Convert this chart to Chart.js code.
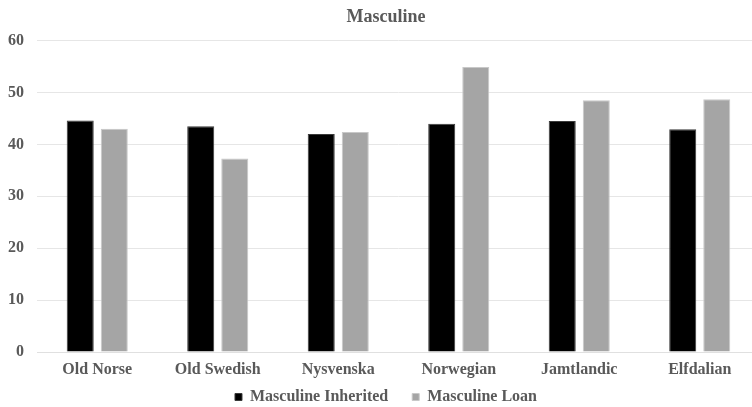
<!DOCTYPE html>
<html lang="en">
<head>
<meta charset="UTF-8">
<title>Masculine</title>
<script src="https://cdn.jsdelivr.net/npm/chart.js"></script>
<style>
    html, body { margin: 0; background: #fff; overflow: hidden; }
    #wrap { width: 784px; height: 407px; }
</style>
</head>
<body>
<div id="wrap"><canvas id="masculineChart" width="784" height="407"></canvas></div>
<script>
var categories = ['Old Norse', 'Old Swedish', 'Nysvenska', 'Norwegian', 'Jamtlandic', 'Elfdalian'];
var inheritedValues = [44.6, 43.5, 42.0, 44.0, 44.5, 42.9];
var loanValues = [43.0, 37.3, 42.4, 54.9, 48.5, 48.7];
var yTicks = [0, 10, 20, 30, 40, 50, 60];

var textGray = '#595959';
var serif = "'Liberation Serif', 'Times New Roman', serif";

var ctx = document.getElementById('masculineChart').getContext('2d');
var chart = new Chart(ctx, {
    type: 'bar',
    data: {
        labels: categories,
        datasets: [{
            label: 'Masculine Inherited',
            data: inheritedValues,
            backgroundColor: '#000000',
            borderColor: '#3a3a3a',
            borderWidth: 1,
            barPercentage: 0.794,
            categoryPercentage: 0.565
        }, {
            label: 'Masculine Loan',
            data: loanValues,
            backgroundColor: '#a5a5a5',
            borderColor: '#c8c8c8',
            borderWidth: 1,
            barPercentage: 0.794,
            categoryPercentage: 0.565
        }]
    },
    options: {
        responsive: false,
        animation: false,
        layout: { padding: { left: 12, right: 24, top: 2, bottom: -8 } },
        plugins: {
            title: {
                display: true,
                text: 'Masculine',
                color: textGray,
                font: { family: serif, size: 18, weight: 'bold' },
                padding: { top: 5, bottom: 12 }
            },
            legend: {
                position: 'bottom',
                labels: {
                    color: textGray,
                    font: { family: serif, size: 16, weight: 'bold' },
                    boxWidth: 7,
                    boxHeight: 7,
                    padding: 24
                }
            },
            tooltip: { enabled: false }
        },
        scales: {
            x: {
                grid: { display: false, drawTicks: false },
                border: { color: '#e0e0e0' },
                ticks: {
                    color: textGray,
                    font: { family: serif, size: 16, weight: 'bold' },
                    padding: 8
                },
                // squeeze the axis box so the legend sits right under the labels,
                // and don't clip the labels to that smaller box
                afterFit: function (scale) {
                    scale.height = 13;
                    scale._computeLabelArea = function () {};
                }
            },
            y: {
                min: 0,
                max: 60,
                afterBuildTicks: function (axis) {
                    axis.ticks = yTicks.map(function (v) { return { value: v }; });
                },
                grid: { color: '#e6e6e6', drawTicks: false },
                border: { display: false },
                ticks: {
                    color: textGray,
                    font: { family: serif, size: 16, weight: 'bold' },
                    padding: 13
                },
                // narrow box so title/legend centre like the original; labels may overhang
                afterFit: function (scale) {
                    scale.width = 25;
                    scale._computeLabelArea = function () {};
                }
            }
        }
    }
});
</script>
</body>
</html>
